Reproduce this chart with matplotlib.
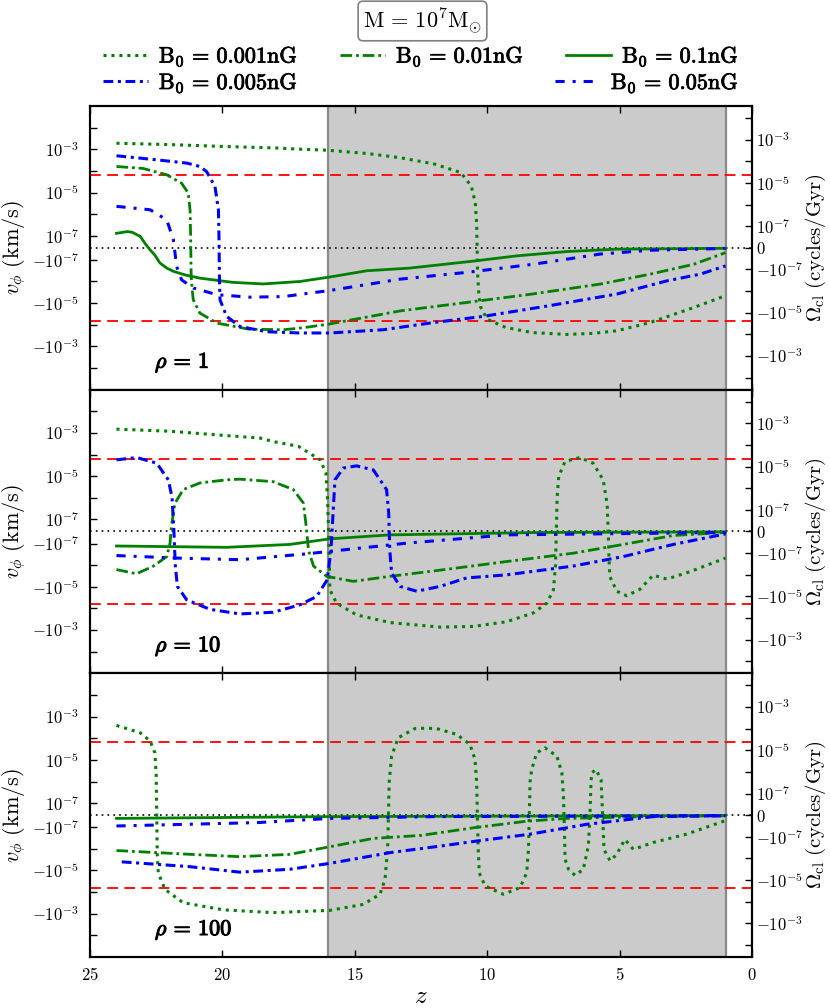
import math
import matplotlib
matplotlib.use('Agg')
import matplotlib.pyplot as plt
from matplotlib.ticker import FixedLocator, FixedFormatter, NullLocator
from matplotlib.lines import Line2D
import matplotlib.patheffects as pe

plt.rcParams['mathtext.fontset'] = 'cm'
plt.rcParams['font.family'] = ['DejaVu Serif']

# ---------------- data ----------------
z_ticks = [25, 20, 15, 10, 5, 0]
rho_labels = [r'$\rho\,=\,1$', r'$\rho\,=\,10$', r'$\rho\,=\,100$']
b_labels = [r'$\mathrm{B_0\,=\,0.001nG}$', r'$\mathrm{B_0\,=\,0.01nG}$', r'$\mathrm{B_0\,=\,0.1nG}$',
            r'$\mathrm{B_0\,=\,0.005nG}$', r'$\mathrm{B_0\,=\,0.05nG}$']
shade_z = [16, 1]
thresh_v = 6.5e-5

# panel 1 (rho = 1)
z1_001 = [24.0, 22.0, 20.0, 18.0, 17.0, 16.0, 14.5, 13.3, 12.0, 11.0, 10.6, 10.45, 10.40, 10.36, 10.31, 10.25,
          10.0, 9.3, 8.3, 7.0, 6.0, 5.1, 3.85, 2.2, 1.0]
v1_001 = [1.9e-3, 1.65e-3, 1.35e-3, 1.15e-3, 1.0e-3, 9e-4, 6.3e-4, 4.1e-4, 2.1e-4, 8.4e-5, 2e-5, 3.4e-6, 4e-7,
          -5e-7, -5e-6, -1.5e-5, -5.6e-5, -1.33e-4, -2.3e-4, -2.8e-4, -2.5e-4, -1.9e-4, -7.9e-5, -1.6e-5, -4.5e-6]
z1_01 = [24.0, 23.0, 22.1, 21.54, 21.29, 21.22, 21.2, 21.18, 21.14, 21.1, 20.85, 20.2, 19.0, 17.7, 17.0, 16.0,
         13.3, 10.8, 8.3, 5.7, 3.85, 2.2, 1.0]
v1_01 = [1.6e-4, 1.3e-4, 6.6e-5, 2.7e-5, 9.4e-6, 1.5e-6, 1e-7, -5e-7, -2.5e-6, -7e-6, -2.9e-5, -8.4e-5, -1.6e-4,
         -1.7e-4, -1.4e-4, -9.4e-5, -2.3e-5, -9.4e-6, -3.8e-6, -1.3e-6, -4.6e-7, -1.6e-7, -4e-8]
z1_1 = [24.0, 23.6, 23.4, 23.1, 22.9, 22.73, 22.55, 22.36, 22.1, 21.85, 21.4, 20.85, 19.6, 18.46, 17.07, 15.94,
        14.55, 12.92, 10.4, 8.89, 7.0, 5.1, 1.0]
v1_1 = [1.3e-7, 1.57e-7, 1.45e-7, 9.4e-8, 3e-8, -1.7e-8, -6e-8, -1.4e-7, -2.4e-7, -3.4e-7, -5e-7, -7e-7, -1.1e-6,
        -1.3e-6, -1.0e-6, -6.2e-7, -3.2e-7, -2.4e-7, -1.1e-7, -6.7e-8, -3.1e-8, -1.1e-8, -4e-9]
z1_005 = [24.0, 22.73, 21.35, 20.85, 20.6, 20.28, 20.15, 20.13, 20.11, 20.09, 19.84, 19.34, 18.33, 17.07, 15.94,
          13.92, 12.03, 10.15, 7.63, 5.1, 3.22, 1.96, 1.0]
v1_005 = [5e-4, 3.5e-4, 2.3e-4, 1.6e-4, 9.4e-5, 1.9e-5, 1.6e-6, 1e-7, -1e-6, -7e-6, -4.1e-5, -1.2e-4, -2.1e-4,
          -2.4e-4, -2.4e-4, -1.7e-4, -7.9e-5, -4.1e-5, -1.3e-5, -3.8e-6, -9.4e-7, -4.6e-7, -1.9e-7]
z1_05 = [24.0, 22.73, 22.1, 21.85, 21.73, 21.54, 21.1, 20.2, 18.96, 17.7, 15.94, 13.29, 10.78, 8.26, 5.74, 3.85, 1.0]
v1_05 = [2.3e-6, 1.6e-6, 5.4e-7, 6.7e-8, -2.0e-7, -8.4e-7, -2e-6, -4.1e-6, -5.3e-6, -5e-6, -2.6e-6, -7.8e-7,
         -3.8e-7, -1.6e-7, -5.2e-8, -2e-8, -5e-9]

# panel 2 (rho = 10)
z2_001 = [24.0, 22.0, 20.0, 19.34, 18.58, 18.08, 17.13, 16.82, 16.31, 16.09, 16.03, 15.99, 15.96, 15.94, 15.69,
          14.93, 13.67, 11.78, 10.52, 9.26, 8.25, 7.75, 7.5, 7.42, 7.39, 7.36, 7.30, 7.06, 6.5, 6.0, 5.62, 5.47,
          5.43, 5.40, 5.37, 5.11, 4.73, 4.23, 3.73, 3.22, 2.34, 1.0]
v2_001 = [1.5e-3, 1.2e-3, 7.8e-4, 6.8e-4, 5.8e-4, 4e-4, 2.4e-4, 1.4e-4, 5.7e-5, 1.4e-5, 1e-6, 0.0, -1e-6, -1.4e-5,
          -5.7e-5, -2e-4, -4.5e-4, -7.3e-4, -6.8e-4, -4.1e-4, -1.6e-4, -5.7e-5, -1.4e-5, -1e-6, 0.0, 1e-6, 9.7e-6,
          4.8e-5, 7.3e-5, 4e-5, 6.8e-6, 5e-7, 0.0, -5e-7, -3.3e-6, -1.6e-5, -2.6e-5, -1.3e-5, -2.9e-6, -4.4e-6,
          -2e-6, -4.7e-7]
z2_01 = [24.0, 23.24, 22.6, 22.1, 21.98, 21.92, 21.85, 21.79, 21.48, 20.85, 19.84, 19.34, 18.08, 17.32, 16.94,
         16.82, 16.75, 16.56, 16.06, 15.06, 13.67, 11.78, 9.26, 6.75, 4.86, 2.97, 1.0]
v2_01 = [-1.6e-6, -2.5e-6, -1.1e-6, -4e-7, -1e-7, 5e-8, 2e-7, 5.7e-7, 2.4e-6, 4.9e-6, 6.8e-6, 7.3e-6, 5.6e-6,
         2.4e-6, 5.7e-7, 1.4e-8, -2e-7, -1.1e-6, -3.3e-6, -5.6e-6, -3.3e-6, -1.7e-6, -6.8e-7, -2.8e-7, -1.1e-7,
         -3.3e-8, -8e-9]
z2_1 = [24.0, 19.84, 17.45, 15.94, 13.67, 8.0, 1.0]
v2_1 = [-1.3e-7, -1.5e-7, -1.1e-7, -6.1e-8, -2.8e-8, -8e-9, -3e-9]
z2_005 = [24.0, 23.24, 22.48, 22.04, 21.9, 21.83, 21.78, 21.70, 21.35, 20.47, 19.34, 18.08, 17.07, 16.44, 16.04,
          15.9, 15.86, 15.82, 15.75, 15.43, 14.93, 14.3, 13.8, 13.72, 13.68, 13.61, 13.29, 12.66, 11.78, 10.78,
          9.26, 6.75, 4.86, 2.97, 1.0]
v2_005 = [5.7e-5, 7.3e-5, 4e-5, 6.8e-6, 1e-6, 0.0, -1e-6, -9.6e-6, -4e-5, -1.1e-4, -1.8e-4, -1.5e-4, -6.8e-5,
          -2.8e-5, -4.7e-6, -2e-7, 0.0, 2e-7, 6.8e-6, 2.4e-5, 3e-5, 1.95e-5, 2.4e-6, 2e-7, -2e-7, -2.3e-6, -9.6e-6,
          -1.6e-5, -9.6e-6, -3.9e-6, -2.8e-6, -1.1e-6, -4e-7, -1.1e-7, -2e-8]
z2_05 = [24.0, 21.73, 19.34, 16.82, 15.94, 13.04, 9.26, 1.0]
v2_05 = [-3.6e-7, -4.7e-7, -5.6e-7, -3e-7, -2.3e-7, -9.7e-8, -2.8e-8, -8e-9]

# panel 3 (rho = 100)
z3_001 = [24.0, 23.11, 22.73, 22.55, 22.5, 22.48, 22.46, 22.42, 22.17, 21.48, 19.97, 18.08, 15.94, 14.68, 14.05,
          13.86, 13.76, 13.73, 13.70, 13.61, 13.36, 12.73, 12.3, 11.91, 11.15, 10.65, 10.46, 10.40, 10.37, 10.34,
          10.30, 10.08, 9.39, 8.76, 8.51, 8.44, 8.41, 8.38, 8.32, 8.13, 7.82, 7.37, 7.18, 7.12, 7.10, 7.08, 7.06,
          6.93, 6.68, 6.37, 6.18, 6.12, 6.08, 6.05, 5.89, 5.70, 5.64, 5.59, 5.36, 5.11, 4.8, 4.48, 3.73, 2.47, 1.0]
v3_001 = [3.9e-4, 1.8e-4, 7.5e-5, 2.1e-5, 2e-6, 0.0, -2e-6, -1.3e-5, -7.5e-5, -3.1e-4, -6.6e-4, -8.9e-4, -7e-4,
          -3.7e-4, -1.26e-4, -2.6e-5, -1e-6, 0.0, 1e-6, 1.5e-5, 1.06e-4, 2.8e-4, 2.9e-4, 2.8e-4, 1.5e-4, 5.2e-5,
          1.05e-5, 1e-6, 0.0, -1e-6, -1.3e-5, -5.2e-5, -1.26e-4, -6.2e-5, -1.3e-5, -1e-6, 0.0, 1e-6, 3.6e-6,
          2.1e-5, 3.6e-5, 1.5e-5, 2.5e-6, 2e-7, 0.0, -2e-7, -3e-6, -8.8e-6, -1.7e-5, -8.8e-6, -7.3e-7, 0.0, 1e-6,
          2.5e-6, 3.6e-6, 1.2e-6, 0.0, -1.06e-6, -3.6e-6, -1.8e-6, -3.7e-7, -1.06e-6, -5.1e-7, -2.1e-7, -4.5e-8]
z3_01 = [24.0, 21.22, 19.34, 17.45, 15.94, 14.3, 12.5, 10.5, 8.5, 7.0, 4.0, 1.0]
v3_01 = [-1.2e-6, -1.8e-6, -2.3e-6, -1.8e-6, -8e-7, -3.3e-7, -2.4e-7, -1.06e-7, -5e-8, -2.7e-8, -1.2e-8, -5e-9]
z3_1 = [24.0, 16.0, 1.0]
v3_1 = [-2.7e-8, -1.2e-8, -3e-9]
z3_005 = [23.8, 21.22, 19.34, 17.45, 15.94, 13.67, 11.78, 10.35, 8.38, 6.24, 3.73, 1.0]
v3_005 = [-4e-6, -6.7e-6, -1.2e-5, -8.8e-6, -4.7e-6, -1.5e-6, -7.5e-7, -4.3e-7, -2.1e-7, -7.6e-8, -1.2e-8, -5e-9]
z3_05 = [24.0, 18.7, 15.94, 12.0, 1.0]
v3_05 = [-9e-8, -6.2e-8, -2.7e-8, -1.2e-8, -4e-9]

tick_exp = [-2, -3, -4, -5, -6, -7]
label_exp = [-3, -5, -7]

# ---------------- styles ----------------
st_001 = dict(color='green', ls=(0, (1, 1.6)), lw=2.2)
st_01 = dict(color='green', ls=(0, (4.2, 1.4, 1.0, 1.4)), lw=2.0)
st_1 = dict(color='green', ls='-', lw=2.0)
st_005 = dict(color='blue', ls=(0, (3.2, 1.5, 1.0, 1.5)), lw=2.2)
st_05 = dict(color='blue', ls=(0, (3.0, 2.6, 1.0, 2.6)), lw=2.2)

panels = [
    [(z1_001, v1_001, st_001), (z1_01, v1_01, st_01), (z1_1, v1_1, st_1), (z1_005, v1_005, st_005), (z1_05, v1_05, st_05)],
    [(z2_001, v2_001, st_001), (z2_01, v2_01, st_01), (z2_1, v2_1, st_1), (z2_005, v2_005, st_005), (z2_05, v2_05, st_05)],
    [(z3_001, v3_001, st_001), (z3_01, v3_01, st_01), (z3_1, v3_1, st_1), (z3_005, v3_005, st_005), (z3_05, v3_05, st_05)],
]

LT = 1e-7
left_lim = 0.1
h_dec = 6 + 0.5 / 0.9
right_lim = LT * 10 ** (h_dec - 1.0)

fig = plt.figure(figsize=(8.3, 10.08), dpi=100)
L, R = 90 / 830, 752 / 830
B, T = 1 - 957 / 1008, 1 - 106 / 1008
gs = fig.add_gridspec(3, 1, left=L, right=R, bottom=B, top=T, hspace=0)

lt_vals = [-10.0 ** e for e in tick_exp] + [10.0 ** e for e in reversed(tick_exp)]
lt_labs = []
for v in lt_vals:
    e = int(round(math.log10(abs(v))))
    if e in label_exp:
        lt_labs.append(('$-10^{%d}$' if v < 0 else '$10^{%d}$') % e)
    else:
        lt_labs.append('')
rt_vals = lt_vals[:6] + [0.0] + lt_vals[6:]
rt_labs = lt_labs[:6] + ['$0$'] + lt_labs[6:]

bold = [pe.withStroke(linewidth=0.8, foreground='k')]

axes = []
for i, series in enumerate(panels):
    ax = fig.add_subplot(gs[i])
    axes.append(ax)
    ax.axvspan(shade_z[0], shade_z[1], facecolor='#cbcbcb', edgecolor='#8a8a8a', lw=1.6, zorder=0)
    ax.axhline(0, color='k', ls=(0, (1, 2.5)), lw=1.2, zorder=1)
    for tv in (thresh_v, -thresh_v):
        ax.axhline(tv, color='red', ls=(0, (6, 3.5)), lw=1.3, zorder=1.5)
    for zz, vv, st in series:
        ax.plot(zz, vv, zorder=3, **st)
    ax.set_yscale('symlog', linthresh=LT, linscale=0.5)
    ax.set_ylim(-left_lim, left_lim)
    ax.set_xlim(25, 0)
    ax.yaxis.set_major_locator(FixedLocator(lt_vals))
    ax.yaxis.set_major_formatter(FixedFormatter(lt_labs))
    ax.yaxis.set_minor_locator(NullLocator())
    ax.set_xticks(z_ticks)
    ax.set_xticklabels(['$%d$' % t for t in z_ticks])
    ax.tick_params(axis='both', direction='in', length=5, width=1, labelsize=12)
    ax.tick_params(axis='x', top=True, bottom=True, pad=7, labelbottom=(i == 2))
    ax.tick_params(axis='y', left=True, right=False, pad=8)
    for sp in ax.spines.values():
        sp.set_linewidth(1.5)
    ax.set_ylabel(r'$v_\phi\ (\mathrm{km/s})$', fontsize=16)
    ax.yaxis.set_label_coords(-0.093, 0.5)
    ax.text(0.098, 0.095, rho_labels[i], transform=ax.transAxes, fontsize=16, ha='left', va='center',
            path_effects=bold)

    ax2 = ax.twinx()
    ax2.set_yscale('symlog', linthresh=LT, linscale=0.9)
    ax2.set_ylim(-right_lim, right_lim)
    ax2.yaxis.set_major_locator(FixedLocator(rt_vals))
    ax2.yaxis.set_major_formatter(FixedFormatter(rt_labs))
    ax2.yaxis.set_minor_locator(NullLocator())
    ax2.tick_params(axis='y', direction='in', length=5, width=1, labelsize=12, right=True, left=False, pad=3)
    ax2.set_ylabel(r'$\Omega_\mathrm{cl}\ (\mathrm{cycles/Gyr})$', fontsize=15)
    ax2.yaxis.set_label_coords(1.078, 0.5)
    for sp in ax2.spines.values():
        sp.set_linewidth(1.5)

axes[2].set_xlabel('$z$', fontsize=18, labelpad=1)

# legends
h_green = [Line2D([], [], **st_001), Line2D([], [], **st_01), Line2D([], [], **st_1)]
h_blue = [Line2D([], [], **st_005), Line2D([], [], **st_05)]
common = dict(loc='center', mode='expand', frameon=False, fontsize=16, handlelength=2.0,
              handletextpad=0.5, borderaxespad=0, borderpad=0.6)
lg1 = fig.legend(h_green, b_labels[:3], bbox_to_anchor=(L, 1 - 57 / 1008, R - L, 0), ncol=3, **common)
lg2 = fig.legend(h_blue, b_labels[3:], bbox_to_anchor=(L, 1 - 83 / 1008, R - L, 0), ncol=2, **common)
for lg in (lg1, lg2):
    for t in lg.get_texts():
        t.set_path_effects([pe.withStroke(linewidth=0.6, foreground='k')])

fig.text(0.509, 1 - 21 / 1008, r'$\mathrm{M}\,=\,10^7\mathrm{M}_{\odot}$', ha='center', va='center', fontsize=16,
         bbox=dict(boxstyle='round,pad=0.22', facecolor='white', edgecolor='#808080', lw=1.2))

fig.savefig('out.png', dpi=100)
